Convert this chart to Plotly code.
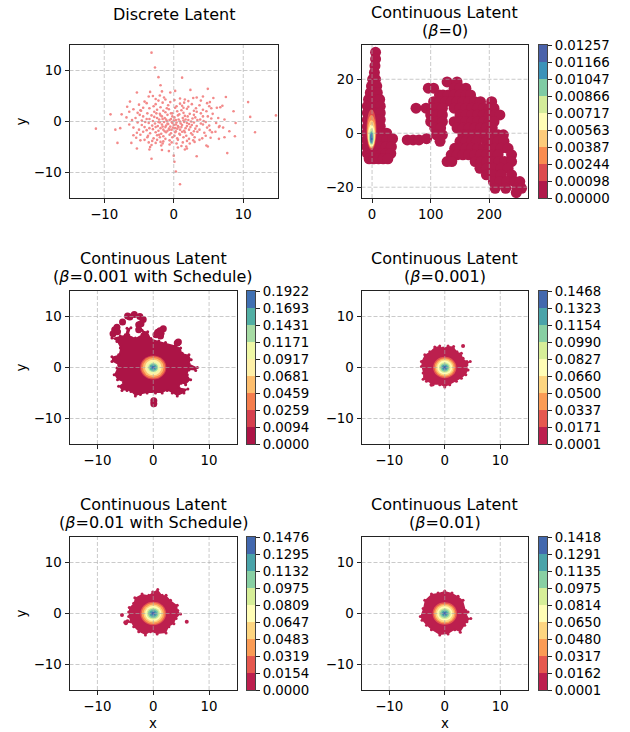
import plotly.graph_objects as go

# ---------- values ----------
FONT = "DejaVu Sans"
DOT = "rgb(243,138,138)"

disc_outliers = [(-3.2,13.5),(-2.7,10.6),(-2.2,8.7),(1.2,8.6),(-1.9,7.1),(4.9,6.4),(2.4,6.2),(0.2,6.0),(-1.7,5.9),
 (-5.3,5.7),(-3.4,5.8),(-0.5,5.7),(-3.6,4.9),(-3,5),(-2,5.1),(4.2,4.9),(3.3,4.7),(5.7,4.6),(7.5,4.8),(-6.3,3.9),
 (10.7,3.8),(7,3.1),(6.7,2.8),(8.6,2),(-9.1,1.4),(-7.5,1.4),(11,0.9),(14.7,1.2),(-11.2,-1.4),(-8.4,-1.6),(-7.7,-1.3),
 (8.9,-0.3),(11.7,-2.1),(8,-1.9),(8.8,-2.9),(7.1,-1.2),(-8.1,-4.2),(-6.1,-4.2),(-5.3,-5.3),(-3.5,-5.5),(-3.2,-7.3),
 (-1.7,-5.6),(-0.7,-5.8),(0,-6.7),(0.1,-7.9),(0.3,-9.8),(0.9,-12.3),(3.3,-6.8),(7.7,-6.2),(1.6,-5.5),(1.9,-5.3),
 (4.7,-4.7),(4.9,-4.9),(6.5,-3.4),(7.3,-3.1)]
disc_mass = [(-2.6,4.4),(-1.4,4.7),(1.6,4.3),(2.8,4.6),(0.9,4.5),(-4.2,3.9),(-2.2,4.1),(-0.5,3.8),(0.1,4.2),(1.5,3.7),
 (3.9,4.1),(5.2,3.8),(-1.2,4.3),(2.1,4.0),(-5,3.3),(-3.9,3.6),(-2.6,3.4),(-1.6,3.7),(-0.8,3.2),(0.9,3.5),(1.2,3.1),
 (2.6,3.4),(3.7,3.2),(4.8,3.6),(-6.7,2.9),(-4.4,2.7),(-2.9,3.0),(-1.9,2.8),(-1,2.6),(0.4,3),(1.4,2.7),(2.1,2.9),(3.2,2.6),
 (5.1,3),(6.2,2.7),(-5.8,2.4),(-4.8,2.2),(-3.5,2.6),(-2.4,2.3),(-1.5,2.1),(-0.7,2.4),(0.2,2.7),(1.1,2.2),(1.9,2.5),
 (2.9,2.1),(4.2,2.3),(5.4,2.6),(-6.4,1.9),(-5.2,1.7),(-4.7,2.1),(-3.8,1.6),(-2.8,1.9),(-2,1.5),(-1.2,1.8),(-0.4,1.6),
 (0.5,2.0),(1.4,1.7),(2.3,1.5),(3.3,1.9),(3.9,1.6),(4.7,2.0),(-4.9,1.3),(-3.2,1.2),(-2.5,1.6),(-1.7,1.0),(-0.9,1.3),
 (-0.2,1.0),(0.8,1.4),(1.6,1.1),(2.9,1.3),(4.2,1.0),(5.6,1.5),(-6.8,0.8),(-5.5,0.7),(-4.4,1.0),(-3.5,0.5),(-2.8,0.9),
 (-2.1,0.4),(-1.3,0.7),(-0.6,0.3),(0.1,0.8),(0.7,0.4),(1.3,0.7),(2.1,0.3),(3.1,0.8),(3.8,0.4),(4.9,1.0),(6.4,0.7),
 (-6,0.3),(-4.6,0.2),(-3.9,0.5),(-3,0.1),(-2.2,-0.1),(-1.6,0.5),(-1,0.1),(-0.3,-0.1),(0.3,0.3),(0.9,0),(1.7,0.4),
 (2.5,0.0),(3.4,0.3),(4.3,0.1),(5.4,0.6),(7.3,0.4),(-5.2,-0.2),(-4.1,-0.1),(-3.6,-0.3),(-2.7,-0.4),(-2,-0.2),(-1.4,-0.1),
 (-0.8,-0.5),(-0.2,-0.3),(0.4,-0.2),(1,-0.4),(1.5,-0.1),(2.2,-0.5),(2.9,-0.2),(3.9,-0.4),(4.6,-0.1),(6.1,-0.3),
 (-6.4,-0.6),(-4.6,-0.7),(-3.1,-0.8),(-2.3,-0.9),(-1.7,-0.6),(-1.1,-0.8),(-0.5,-1.0),(0,-0.7),(0.6,-0.9),(1.2,-0.7),
 (1.9,-0.9),(2.6,-0.7),(3.3,-0.9),(4.2,-0.6),(5.1,-0.8),(6.6,-0.9),(-5.8,-1.2),(-4.2,-1.1),(-3.5,-1.3),(-2.6,-1.1),
 (-1.9,-1.3),(-1.2,-1.1),(-0.7,-1.4),(-0.1,-1.2),(0.5,-1.4),(1.1,-1.1),(1.7,-1.3),(2.4,-1.1),(3.1,-1.4),(4.8,-1.2),
 (6.5,-1.1),(-5,-1.6),(-3.9,-1.7),(-3,-1.5),(-2.2,-1.8),(-1.5,-1.6),(-0.9,-1.8),(-0.3,-1.6),(0.3,-1.9),(0.9,-1.6),
 (1.5,-1.8),(2.2,-1.6),(2.9,-1.9),(3.7,-1.6),(5.2,-1.7),(-5.3,-2.2),(-4.4,-2.0),(-3.4,-2.3),(-2.6,-2.1),(-1.8,-2.4),
 (-1.1,-2.1),(-0.4,-2.3),(0.2,-2.1),(0.8,-2.4),(1.6,-2.1),(2.5,-2.3),(3.4,-2.0),(4.4,-2.2),(5.5,-2.1),(6,-2.0),
 (-5.8,-2.7),(-4.8,-2.6),(-3.7,-2.8),(-2.4,-2.7),(-1.5,-2.9),(-0.6,-2.6),(0.1,-2.8),(0.9,-2.6),(1.8,-2.8),(2.7,-2.6),
 (4.6,-2.8),(-5.4,-3.2),(-3.8,-3.1),(-2.9,-3.3),(-2,-3.1),(-1.2,-3.4),(-0.2,-3.1),(0.5,-3.3),(1.4,-3.1),(2.2,-3.4),
 (3,-3.1),(4.1,-3.3),(5.3,-3.2),(-4.8,-3.7),(-4.2,-3.6),(-3.1,-3.8),(-2.4,-3.6),(-1.5,-3.9),(-0.6,-3.7),(0.6,-3.6),
 (1.9,-3.8),(2.8,-3.7),(3.7,-3.6),(-3.6,-4.1),(-2.6,-4.2),(-1.9,-4.0),(-1.6,-4.3),(-0.3,-4.1),(0.4,-4.3),(1.3,-4.1),
 (2.3,-4.3),(3,-4.0),(-3.2,-4.6),(-1.8,-4.7),(-0.6,-4.5),(1.1,-4.8),(-3.4,-5.0),(0.6,-5.1),(1.8,-4.9),
 (-0.4,0.5),(0.3,-0.6),(-1.1,0.4),(1.4,0.2),(-0.9,-0.4),(0.7,-1.1),(-1.6,-1.0),(-0.2,1.6),(0.6,1.2),(-2.4,0.7),(-1.9,1.2),
 (1.9,-0.3),(-0.6,-1.6),(1.2,-2.0),(-2.1,-2.6),(0,0.2),(0.2,-1.3),(-1.3,-1.9),(2.7,0.6),(2.0,1.0)]

beta0_tower = [(6,30),(6,27.5),(5,25),(4,22.5),(1,20),(6,20),(-1,17.5),(3,17.5),(8,17.5),(-3,15),(3,15),(9,15),
 (-6,12.5),(1,12.5),(8,12.5),(13,12.5),(-8,10),(-1,10),(6,10),(14,10),(-8,7.5),(-1,7.5),(6,7.5),(14,7.5),
 (-8,5),(-1,5),(6,5),(14,5),(-8,2.5),(-1,2.5),(6,2.5),(14,2.5),(-9,0),(-1,0),(6,0),(14,0),(25,0),
 (-9,-2.5),(-1,-2.5),(7,-2.5),(16,-2.5),(25,-2.5),(35,-2),(-9,-5),(-1,-5),(7,-5),(15,-5),(24,-5),(33,-5),
 (-8,-7.5),(0,-7.5),(8,-7.5),(16,-7.5),(24,-7.5),(32,-7.5),(-5,-9.5),(3,-9.5),(11,-9.5),(19,-9.5),(27,-9.5)]
beta0_bridge = [(60,-2.5),(70,-2.5),(80,-2.5),(93,-2)]
beta0_rows = [
 (19,[128,145]),(16.7,[96,105,140,150,160]),(14.2,[115,121,130,140,150,160,168]),
 (11.7,[105,115,125,135,145,155,165,175,185,204]),(9.3,[75,92,102,112,120,140,150,160,170,180,190,200,208]),
 (6.8,[100,110,120,150,160,170,180,190,200,210,218]),(4.3,[100,110,120,140,150,160,170,180,190,200,208]),
 (1.9,[107,117,145,155,165,175,185,195,205]),(-0.6,[110,120,155,165,175,185,195,205,215,224]),
 (-3,[116,150,160,170,178,195,205,215,225]),(-5.6,[141,150,160,170,180,190,200,210,220,232]),
 (-8,[135,145,155,165,175,185,195,205,215,238]),(-10.5,[128,136,176,186,196,206,216,226,238]),
 (-13,[184,195,207,220,232]),(-15.4,[195,207,220,238]),(-17.9,[207,218,230,243,252]),(-20.4,[210,228,247,255]),(-22,[246]),
]

blob_sched001 = [(-7.4,5.8),(-5.9,6.2),(-5,6.4),(-4.7,7.7),(-4,7.8),(-4.4,6.4),(-3.2,5.8),(-2,6.5),(-2,7.3),(-1,7),
 (-0.4,5.7),(1,5.2),(2.2,4.9),(4,4.3),(4.9,3.8),(5.2,2.8),(6.4,2.5),(6.8,1.5),(6.4,0.8),(7.9,0),(7.6,-0.6),(6.4,-0.5),
 (6.1,-1.4),(6.7,-2.4),(5.8,-3.4),(5,-3.1),(4.6,-3.9),(6.2,-4.2),(5.5,-5),(4.3,-5.6),(3.4,-5),(2.5,-4.5),(1.6,-5),
 (0.4,-5),(-1.1,-5),(-2.3,-5.3),(-3.2,-5.6),(-4,-4.7),(-4.7,-4.5),(-5.6,-4.5),(-6.2,-3.7),(-5.3,-2.9),(-6.4,-2.4),
 (-7,-1.4),(-6.5,-0.1),(-6.2,0.5),(-7.4,1.2),(-7.4,2.1),(-6.2,2.5),(-5.9,3.8),(-6.5,5.1)]
isl_sched001 = [(-6.9,7.4),(-6.5,7.9),(-7.2,6.6),(-6.4,7.0),(-5.5,8.9),(-4.6,10.1),(-4.2,9.9),(-3.4,10.4),(-2.4,10.0),
 (-1.8,9.4),(-2.6,8.4),(-2.6,7.4),(-2.2,8.6),(0.8,6.9),(1.4,6.7),(1.8,7.6),(1.3,6.2),(0.5,6.4),(1.2,7.2),(4.5,5.0),(4.3,4.8),
 (0.1,-6.5),(0.1,-7.1)]
blob_001 = [(-4.2,1.2),(-3.6,2.5),(-2.7,3.1),(-1.8,4.0),(-0.9,4.2),(-0.3,3.8),(0.6,4.2),(1.6,4.1),(2.2,3.1),(3,2.8),
 (3.3,1.8),(4,1.2),(4.6,1.2),(4,0.5),(4.2,-0.5),(3.8,-1.4),(3,-2.1),(2.1,-2.7),(0.9,-3.4),(0,-3.8),(-0.9,-3.4),
 (-2.1,-3.4),(-3.3,-2.7),(-3.9,-2.3),(-3.9,-1.1),(-4.2,0.2)]
isl_001 = [(3.3,4.2),(-2.4,-3.4)]
blob_sched01 = [(-4.4,.3),(-4.3,1.2),(-3.5,2),(-3.3,3.1),(-2,3.8),(-.8,3.6),(-.1,4.2),(.8,4.7),(1.6,3.6),(2.3,3.6),
 (3.1,2.6),(4.3,1.6),(4.4,.6),(4.9,-.1),(4.1,-1),(3.7,-2),(2.8,-2.6),(2.3,-3.8),(.7,-4),(-.5,-3.6),(-1.4,-4.2),
 (-2.6,-3.6),(-3.5,-2.6),(-4.1,-1.6),(-4.4,-.6)]
isl_sched01 = [(-5.6,-.3),(-4.9,-1.9),(-5,-1.7),(-4.6,-1.5),(6,-1.6)]
blob_01 = [(-4.4,-.6),(-3.9,1),(-3.6,2.6),(-2.4,3.8),(-1.2,4),(0,4.4),(1.3,4),(2.4,3.4),(3.3,2.6),(3.8,.6),(4.2,.3),
 (3.9,-.6),(4.7,-1),(4,-1.6),(3.6,-2.3),(2.8,-3.7),(1.8,-3.2),(.6,-4),(-.9,-4.2),(-2.4,-3.2),(-3.3,-2.3),(-4.1,-1.3)]
isl_01 = []

# level rings (x0, x1, y0, y1), outermost first
rings_beta0 = [(-9.5,7.5,-6.2,8.8),(-8.5,6.5,-5.5,6.8),(-7.5,5.5,-5.4,4.8),(-6.5,4.5,-5,3.2),(-5.5,3.5,-4.5,1.8),
 (-4.5,2.5,-4,0.8),(-3.5,1.5,-3.6,0.3),(-2.2,0.2,-3.3,-0.3)]
radii_sched001 = [2.35,2.15,1.85,1.5,1.2,0.9,0.65,0.35]
radii_001 = [2.1,1.85,1.6,1.35,1.05,0.8,0.55,0.3]
radii_sched01 = [2.3,2.05,1.75,1.45,1.2,0.95,0.65,0.35]
radii_01 = [2.2,1.95,1.7,1.4,1.1,0.85,0.55,0.3]

labels_beta0 = ["0.00000","0.00098","0.00244","0.00387","0.00563","0.00717","0.00866","0.01047","0.01166","0.01257"]
labels_sched001 = ["0.0000","0.0094","0.0259","0.0459","0.0681","0.0917","0.1171","0.1431","0.1693","0.1922"]
labels_001 = ["0.0001","0.0171","0.0337","0.0500","0.0660","0.0827","0.0990","0.1154","0.1323","0.1468"]
labels_sched01 = ["0.0000","0.0154","0.0319","0.0483","0.0647","0.0809","0.0975","0.1132","0.1295","0.1476"]
labels_01 = ["0.0001","0.0162","0.0317","0.0480","0.0650","0.0814","0.0975","0.1135","0.1291","0.1418"]

pal_a = ["#B0184A","#DC4B4E","#F98C50","#FDCB7A","#FFFDB6","#D3EC9A","#7FCBA4","#3B92B9","#4A62AA"]
pal_b = ["#AC1446","#D5404E","#F47D4D","#FDBE6E","#FEF0A8","#EFF8A6","#A6DBA4","#52AFA4","#4070B2"]
pal_c = ["#BC1F4E","#E5584F","#FA9B55","#FDD580","#FFFDB6","#D6EE98","#88CFA3","#4AA3A9","#4268AE"]

W, H = 630, 732
fig = go.Figure()
shapes, annotations = [], []
layout = {}
GRID = "rgba(170,170,170,0.62)"
TICK = 13.33
TITLE = 16
n = [0]

def px_x(a, b): return [a / W, b / W]
def px_y(a, b): return [1 - b / H, 1 - a / H]

def note(text, px, py, size, angle=0):
    annotations.append(dict(text=text, xref="paper", yref="paper", x=px / W, y=1 - py / H, xanchor="center", yanchor="middle",
        showarrow=False, textangle=angle, font=dict(family=FONT, size=size, color="black")))

def panel(box, xr, yr, xt, yt, lines, xlabel=False, ylabel=False):
    n[0] += 1
    i = n[0]
    sx = "" if i == 1 else str(i)
    tf = dict(family=FONT, size=TICK, color="black")
    common = dict(showgrid=False, zeroline=False, showline=True, mirror=True, linecolor="#222", linewidth=1, ticks="outside",
        ticklen=4, tickwidth=1, tickcolor="#222", tickfont=tf, fixedrange=True, automargin=False)
    layout[f"xaxis{sx}"] = dict(domain=px_x(box[0], box[1]), range=xr, tickvals=xt, anchor=f"y{sx}", **common)
    layout[f"yaxis{sx}"] = dict(domain=px_y(box[2], box[3]), range=yr, tickvals=yt, anchor=f"x{sx}", **common)
    cx = (box[0] + box[1]) / 2
    if len(lines) == 1:
        note(lines[0], cx, box[2] - 31, TITLE)
    else:
        note(lines[0], cx, box[2] - 33, TITLE)
        note(lines[1], cx, box[2] - 15, TITLE)
    if xlabel:
        note("x", cx, 723, TICK)
    if ylabel:
        note("y", 21, (box[2] + box[3]) / 2, TICK, -90)
    return f"x{sx}", f"y{sx}", xr, yr

def colorbar(box, pal, labels):
    n[0] += 1
    sx = str(n[0])
    cs = []
    for k, c in enumerate(pal):
        cs += [[k / len(pal), c], [(k + 1) / len(pal), c]]
    fig.add_trace(go.Heatmap(z=[[k] for k in range(len(pal))], x=[0, 1], y=list(range(len(pal) + 1)), zmin=-0.5,
        zmax=len(pal) - 0.5, colorscale=cs, showscale=False, xaxis=f"x{sx}", yaxis=f"y{sx}", hoverinfo="skip"))
    layout[f"xaxis{sx}"] = dict(domain=px_x(box[0], box[1]), range=[0, 1], showticklabels=False, ticks="", showgrid=False,
        zeroline=False, showline=True, mirror=True, linecolor="#444", linewidth=1, anchor=f"y{sx}", fixedrange=True,
        automargin=False)
    layout[f"yaxis{sx}"] = dict(domain=px_y(box[2], box[3]), range=[0, len(pal)], side="right", anchor=f"x{sx}",
        tickvals=list(range(len(labels))), ticktext=labels, showgrid=False, zeroline=False, showline=True, mirror=True,
        linecolor="#444", linewidth=1, ticks="outside", ticklen=4, tickwidth=1, tickcolor="#222",
        tickfont=dict(family=FONT, size=TICK, color="black"), fixedrange=True, automargin=False)

def blob(ax, pts, color):
    fig.add_trace(go.Scatter(x=[p[0] for p in pts] + [pts[0][0]], y=[p[1] for p in pts] + [pts[0][1]], mode="lines",
        fill="toself", fillcolor=color, line=dict(width=0, color=color), xaxis=ax[0], yaxis=ax[1], hoverinfo="skip"))

def dots(ax, pts, color, size):
    if pts:
        fig.add_trace(go.Scatter(x=[p[0] for p in pts], y=[p[1] for p in pts], mode="markers",
            marker=dict(size=size, color=color, line=dict(width=0)), xaxis=ax[0], yaxis=ax[1], hoverinfo="skip"))

def rings(ax, boxes, pal):
    for k, b in enumerate(boxes):
        shapes.append(dict(type="circle", xref=ax[0], yref=ax[1], x0=b[0], x1=b[1], y0=b[2], y1=b[3],
            fillcolor=pal[k + 1], line=dict(width=0), layer="above"))

def grid(ax, xt, yt):
    for v in xt:
        shapes.append(dict(type="line", xref=ax[0], yref=ax[1], x0=v, x1=v, y0=ax[3][0], y1=ax[3][1],
            line=dict(color=GRID, width=1, dash="4px,2px"), layer="above"))
    for v in yt:
        shapes.append(dict(type="line", xref=ax[0], yref=ax[1], x0=ax[2][0], x1=ax[2][1], y0=v, y1=v,
            line=dict(color=GRID, width=1, dash="4px,2px"), layer="above"))

T = [-10, 0, 10]
R = [-15, 15]

# Panel 1: discrete latent
a = panel((69.5, 278, 45, 198), R, R, T, T, ["Discrete Latent"], ylabel=True)
dots(a, disc_outliers + disc_mass, DOT, 2.6)
grid(a, T, T)

# Panel 2: beta = 0
a = panel((361.5, 528, 45, 198), [-18, 266], [-24, 32.7], [0, 100, 200], [-20, 0, 20], ["Continuous Latent", "(<i>β</i>=0)"])
pts = beta0_tower + beta0_bridge + [(x, r[0]) for r in beta0_rows for x in r[1]]
dots(a, pts, pal_a[0], 11)
rings(a, rings_beta0, pal_a)
grid(a, [0, 100, 200], [-20, 0, 20])
colorbar((539, 547, 45, 198), pal_a, labels_beta0)

def ringbox(radii):
    return [(-r, r, -r, r) for r in radii]

panels = [
 ((69.5, 237, 291, 444), ["Continuous Latent", "(<i>β</i>=0.001 with Schedule)"], blob_sched001, isl_sched001, 7, radii_sched001, pal_b, labels_sched001, (247, 255, 291, 444), False, True),
 ((361.5, 528, 291, 444), ["Continuous Latent", "(<i>β</i>=0.001)"], blob_001, isl_001, 4, radii_001, pal_c, labels_001, (539, 547, 291, 444), False, False),
 ((69.5, 237, 537, 690), ["Continuous Latent", "(<i>β</i>=0.01 with Schedule)"], blob_sched01, isl_sched01, 4, radii_sched01, pal_c, labels_sched01, (247, 255, 537, 690), True, True),
 ((361.5, 528, 537, 690), ["Continuous Latent", "(<i>β</i>=0.01)"], blob_01, isl_01, 4, radii_01, pal_c, labels_01, (539, 547, 537, 690), True, False),
]
for box, title, bl, isl, isize, rad, pal, lab, cb, xl, yl in panels:
    a = panel(box, R, R, T, T, title, xlabel=xl, ylabel=yl)
    blob(a, bl, pal[0])
    dots(a, bl, pal[0], 3)
    dots(a, isl, pal[0], isize)
    rings(a, ringbox(rad), pal)
    grid(a, T, T)
    colorbar(cb, pal, lab)

fig.update_layout(width=W, height=H, margin=dict(l=0, r=0, t=0, b=0, pad=0), autosize=False, showlegend=False,
    paper_bgcolor="white", plot_bgcolor="white", shapes=shapes, annotations=annotations, **layout)
fig.write_html("out.html", config=dict(displayModeBar=False), post_script="document.body.style.margin='0';")
